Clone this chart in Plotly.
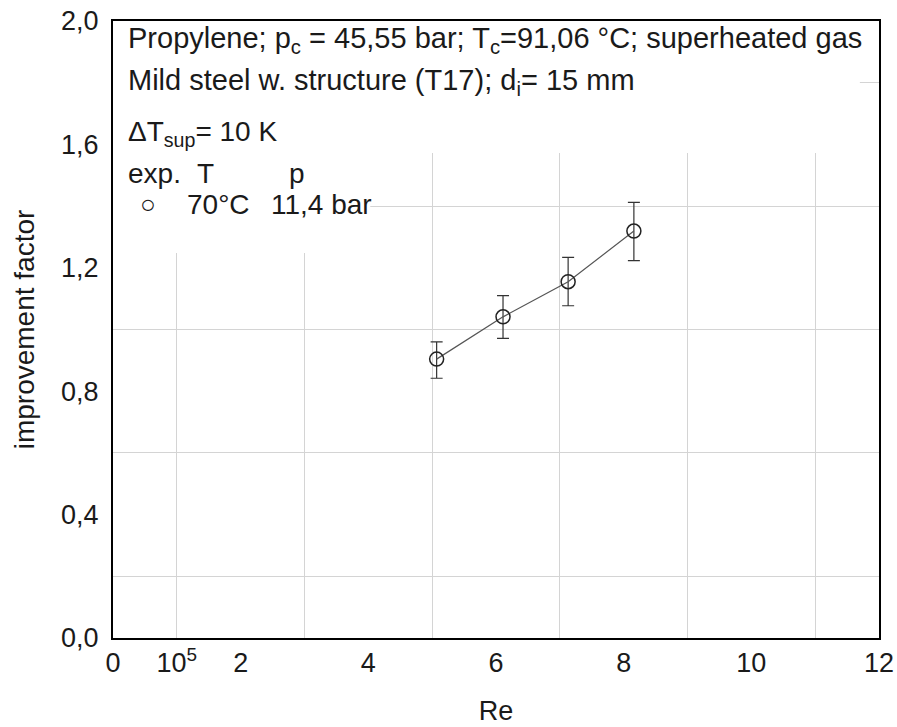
import plotly.graph_objects as go

# Data
re_vals = [5.07, 6.11, 7.13, 8.16]            # Re / 10^5
improvement = [0.904, 1.041, 1.155, 1.319]
err_upper = [0.960, 1.110, 1.234, 1.412]
err_lower = [0.842, 0.971, 1.077, 1.223]

x_tickvals = [0, 1, 2, 4, 6, 8, 10, 12]
x_ticktext = ["0", "10<sup>5</sup>", "2", "4", "6", "8", "10", "12"]
y_tickvals = [0.0, 0.4, 0.8, 1.2, 1.6, 2.0]
y_ticktext = ["0,0", "0,4", "0,8", "1,2", "1,6", "2,0"]

FONT = "Liberation Sans, Arial, sans-serif"
TXT = "#1a1a1a"
GRID = "#d4d4d4"

fig = go.Figure()
fig.add_trace(go.Scatter(
    x=re_vals, y=improvement, mode="lines+markers",
    line=dict(color="#555555", width=1.2),
    marker=dict(symbol="circle-open", size=14, color="#222222", line=dict(width=1.5)),
    error_y=dict(type="data", symmetric=False,
                 array=[u - v for u, v in zip(err_upper, improvement)],
                 arrayminus=[v - l for v, l in zip(improvement, err_lower)],
                 color="#333333", thickness=1.2, width=6),
    showlegend=False,
))

ann = []
def add(text, x, y, xanchor="left", size=28):
    ann.append(dict(text=text, x=x, y=y, xref="x", yref="y", xanchor=xanchor,
                    yanchor="middle", showarrow=False,
                    font=dict(family=FONT, size=size, color=TXT)))

add("Propylene; p<sub>c</sub> = 45,55 bar; T<sub>c</sub>=91,06 °C; superheated gas", 0.2, 1.937, size=29)
add("Mild steel w. structure (T17); d<sub>i</sub>= 15 mm", 0.2, 1.803, size=29)
add("ΔT<sub>sup</sub>= 10 K", 0.2, 1.634)
add("exp.", 0.2, 1.507)
add("T", 1.28, 1.507)
add("p", 2.73, 1.507)
add("○", 0.55, 1.408, xanchor="center", size=26)
add("70°C", 1.13, 1.404)
add("11,4 bar", 2.44, 1.404)

fig.update_layout(
    width=897, height=727,
    margin=dict(l=113, r=18, t=21, b=89, autoexpand=False),
    paper_bgcolor="white", plot_bgcolor="white",
    font=dict(family=FONT, size=27, color=TXT),
    annotations=ann,
    shapes=[
        dict(type="rect", xref="x", yref="y", x0=0, x1=11.7, y0=1.572, y1=2.0,
             fillcolor="white", line=dict(width=0), layer="between"),
        dict(type="rect", xref="x", yref="y", x0=0, x1=4.03, y0=1.248, y1=2.0,
             fillcolor="white", line=dict(width=0), layer="between"),
    ],
    xaxis=dict(range=[0, 12], tickmode="array", tickvals=x_tickvals, ticktext=x_ticktext,
               showgrid=False, zeroline=False, showline=True, mirror=True,
               linecolor="black", linewidth=2, ticks="", automargin=False,
               minor=dict(tick0=1, dtick=2, showgrid=True, gridcolor=GRID, gridwidth=1),
               title=dict(text="Re", font=dict(size=27), standoff=24),
               tickfont=dict(size=27)),
    yaxis=dict(range=[0, 2], tickmode="array", tickvals=y_tickvals, ticktext=y_ticktext,
               showgrid=False, zeroline=False, showline=True, mirror=True,
               linecolor="black", linewidth=2, ticks="", ticklabelstandoff=7, automargin=False,
               minor=dict(tick0=0.2, dtick=0.4, showgrid=True, gridcolor=GRID, gridwidth=1),
               title=dict(text="improvement factor", font=dict(size=28), standoff=18),
               tickfont=dict(size=27)),
)

fig.write_html("out.html")
